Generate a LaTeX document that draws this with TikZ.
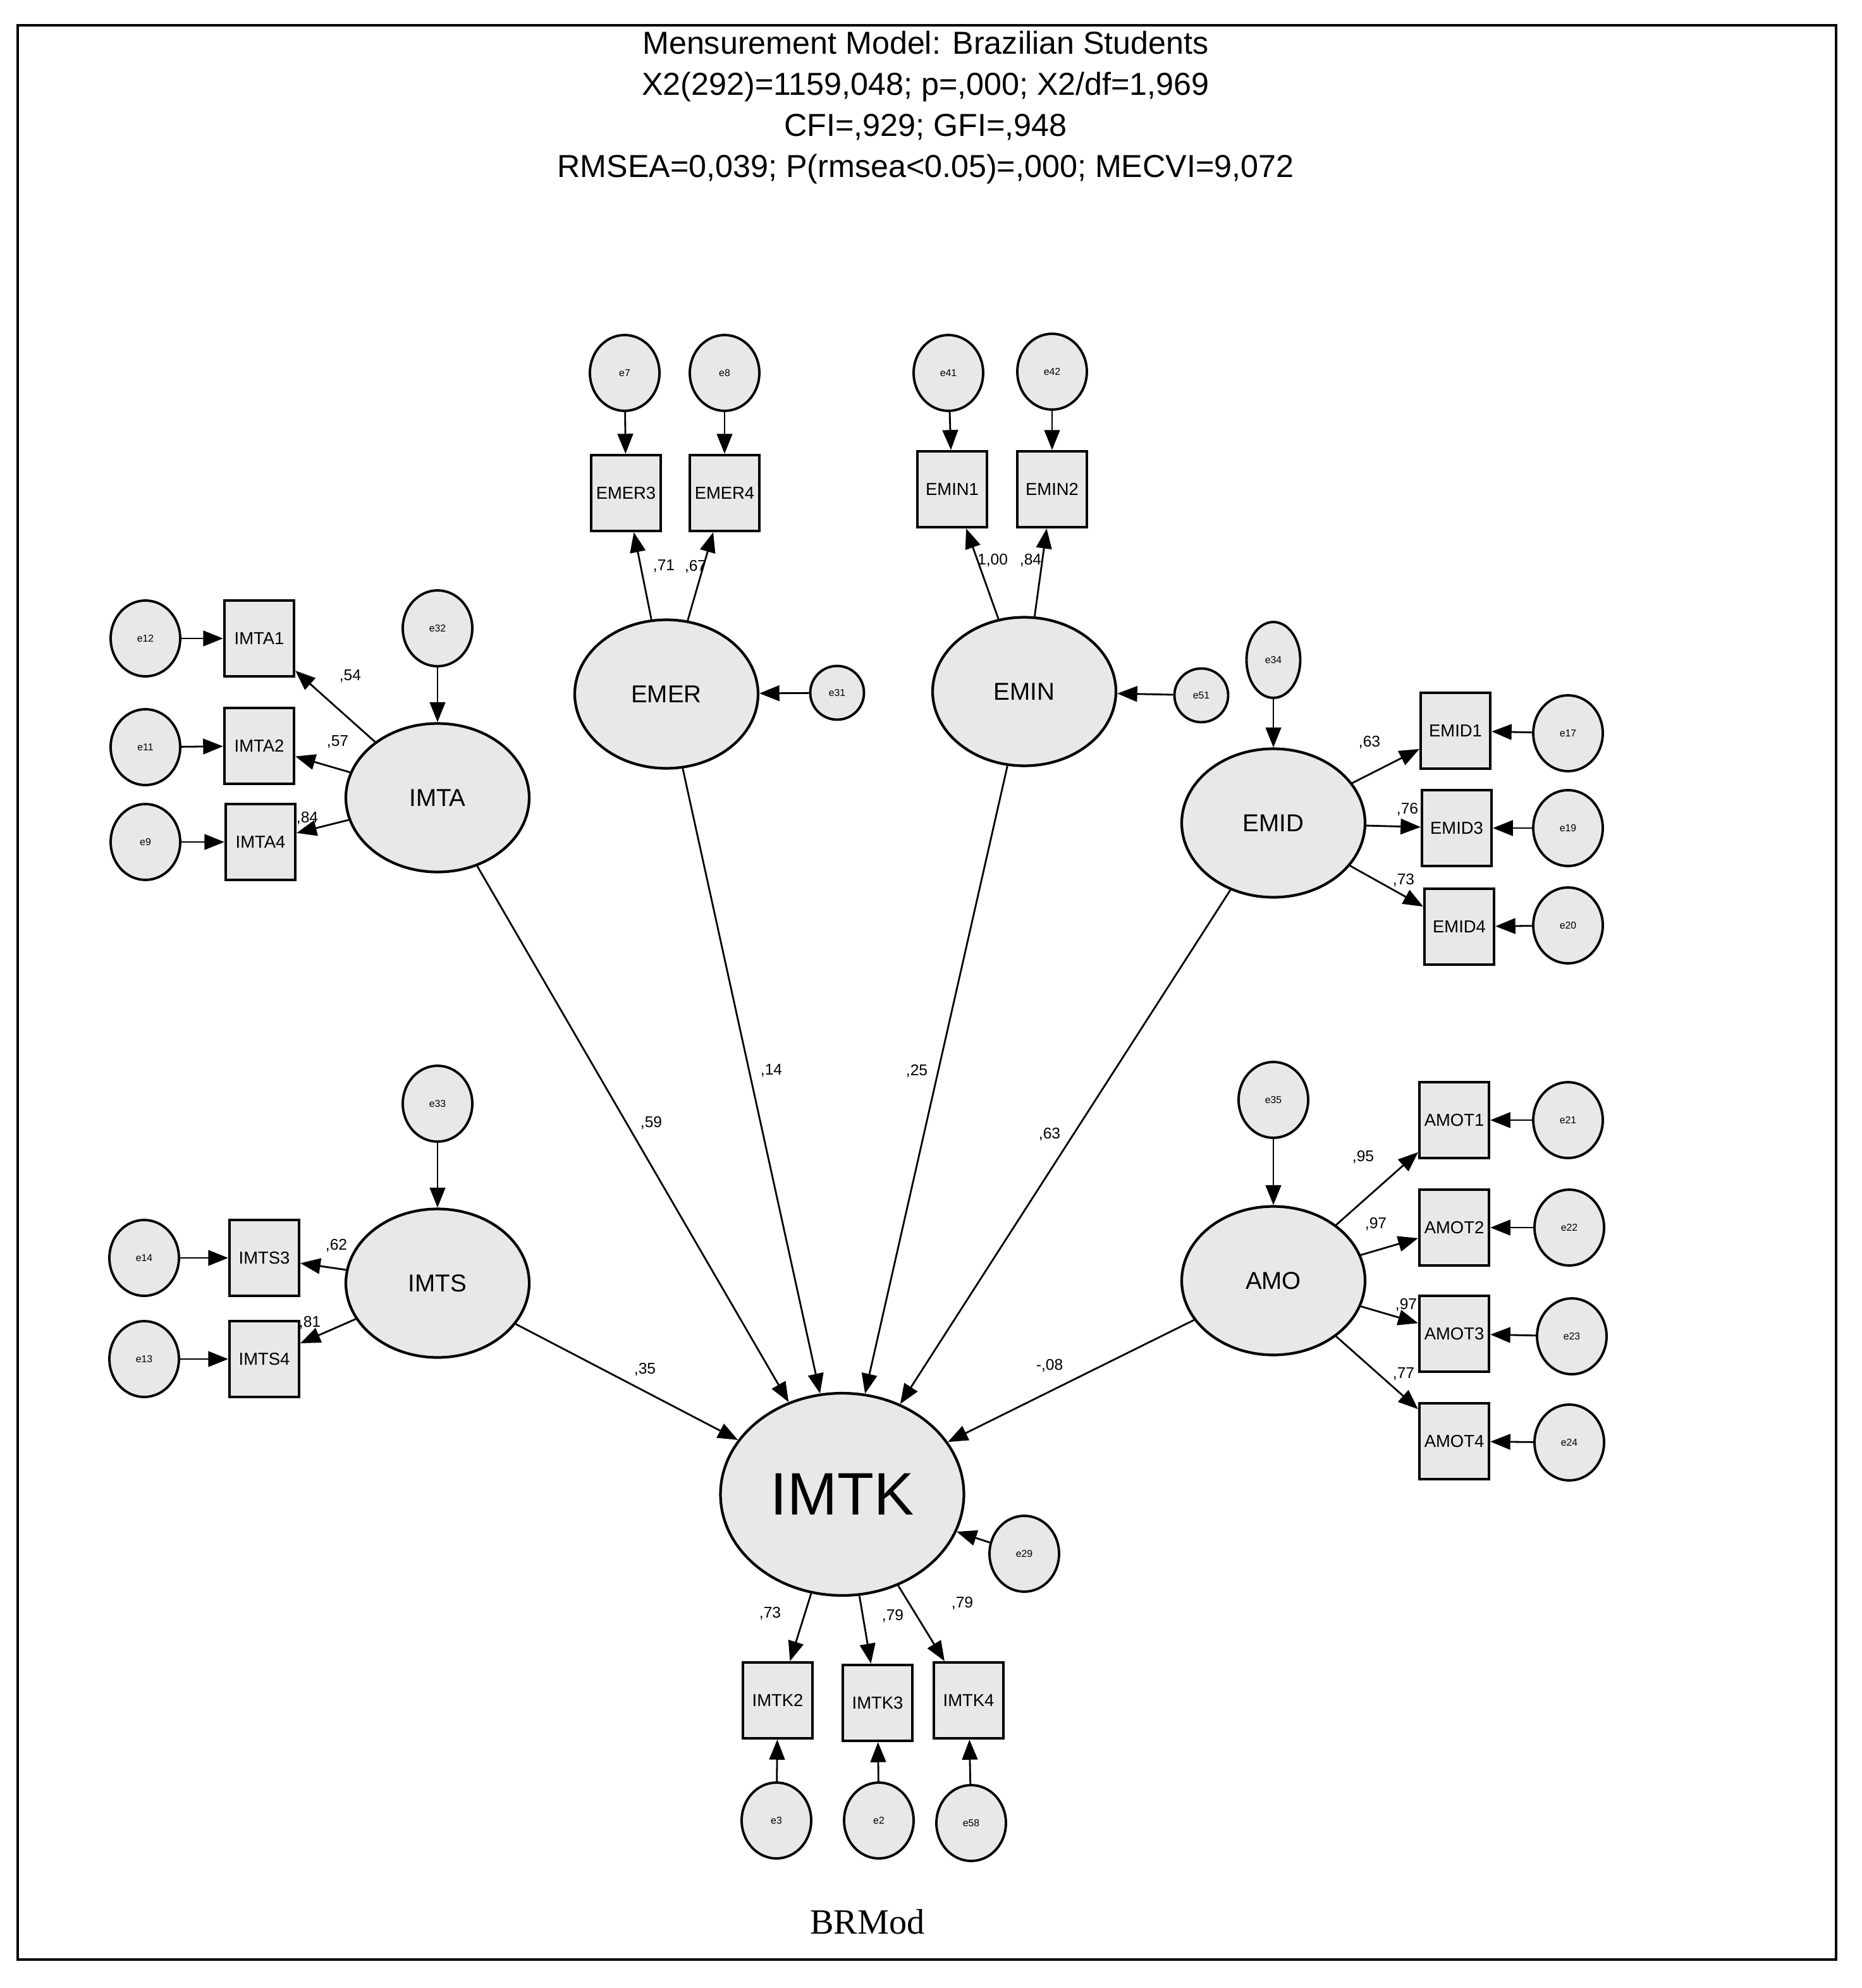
\documentclass[tikz,border=0pt]{standalone}
\usepackage{fontspec}
\setmainfont{Liberation Sans}
\newfontfamily\serifbr{Liberation Serif}
\usetikzlibrary{arrows.meta,shapes.geometric}
\definecolor{fillg}{HTML}{E8E8E8}
\begin{document}
\begin{tikzpicture}[x=0.02cm,y=-0.02cm,
 lat/.style={ellipse,draw,line width=1.2pt,fill=fillg,inner sep=0pt,font=\fontsize{11}{11}\selectfont},
 obs/.style={rectangle,draw,line width=1.2pt,fill=fillg,minimum width=1.1cm,minimum height=1.2cm,inner sep=0pt,font=\fontsize{7.8}{8}\selectfont},
 err/.style={ellipse,draw,line width=1.1pt,fill=fillg,minimum width=1.1cm,minimum height=1.2cm,inner sep=0pt,font=\fontsize{4.5}{5}\selectfont},
 serr/.style={err,minimum width=0.85cm,minimum height=0.85cm},
 ar/.style={-{Triangle[length=9pt,width=7pt]},line width=0.8pt},
 lb/.style={font=\fontsize{7}{8}\selectfont,inner sep=0pt},
 L/.style={lat,minimum width=2.9cm,minimum height=2.35cm},
]
\useasboundingbox (0,0) rectangle (1472,1572.5);
\draw[line width=1.2pt] (14,20) rectangle (1452,1550);
\node[align=center,font=\fontsize{14.3}{18.5}\selectfont] (title) at (732,85) {Mensurement Model: Brazilian Students\\X2(292)=1159,048; p=,000; X2/df=1,969\\CFI=,929; GFI=,948\\RMSEA=0,039; P(rmsea<0.05)=,000; MECVI=9,072};
\node[font=\serifbr\fontsize{16}{16}\selectfont] (cap) at (686,1520) {BRMod};

\node[L] (EMER) at (527,549) {EMER};
\node[L] (EMIN) at (810,547) {EMIN};
\node[L] (IMTA) at (346,631) {IMTA};
\node[L] (EMID) at (1007,651) {EMID};
\node[L] (IMTS) at (346,1015) {IMTS};
\node[L] (AMO) at (1007,1013) {AMO};
\node[lat,minimum width=3.85cm,minimum height=3.2cm,font=\fontsize{27}{27}\selectfont] (IMTK) at (666,1182) {IMTK};

\foreach \n/\x/\y in {EMER3/495/390,EMER4/573/390,EMIN1/753/387,EMIN2/832/387,IMTA1/205/505,IMTA2/205/590,IMTA4/206/666,EMID1/1151/578,EMID3/1152/655,EMID4/1154/733,IMTS3/209/995,IMTS4/209/1075,AMOT1/1150/886,AMOT2/1150/971,AMOT3/1150/1055,AMOT4/1150/1140,IMTK2/615/1345,IMTK3/694/1347,IMTK4/766/1345}
  \node[obs] (\n) at (\x,\y) {\n};

\foreach \n/\x/\y in {e7/494/295,e8/573/295,e41/750/295,e42/832/294,e12/115/505,e11/115/591,e9/115/666,e32/346/497,e17/1240/580,e19/1240/655,e20/1240/732,e35/1007/870,e21/1240/886,e22/1241/971,e23/1243/1057,e24/1241/1141,e14/114/995,e13/114/1075,e33/346/873,e29/810/1229,e3/614/1440,e2/695/1440,e58/768/1442}
  \node[err] (\n) at (\x,\y) {\n};
\node[serr] (e31) at (662,548) {e31};
\node[serr] (e51) at (950,550) {e51};
\node[err,minimum width=0.85cm] (e34) at (1007,522) {e34};

\foreach \a/\b in {e7/EMER3,e8/EMER4,e41/EMIN1,e42/EMIN2,e12/IMTA1,e11/IMTA2,e9/IMTA4,e32/IMTA,e31/EMER,e51/EMIN,e34/EMID,e17/EMID1,e19/EMID3,e20/EMID4,e35/AMO,e21/AMOT1,e22/AMOT2,e23/AMOT3,e24/AMOT4,e14/IMTS3,e13/IMTS4,e33/IMTS,e29/IMTK,e3/IMTK2,e2/IMTK3,e58/IMTK4}
  \draw[ar] (\a) -- (\b);
\foreach \a/\b in {EMER/EMER3,EMER/EMER4,EMIN/EMIN1,EMIN/EMIN2,IMTA/IMTA1,IMTA/IMTA2,IMTA/IMTA4,EMID/EMID1,EMID/EMID3,EMID/EMID4,IMTS/IMTS3,IMTS/IMTS4,AMO/AMOT1,AMO/AMOT2,AMO/AMOT3,AMO/AMOT4,IMTK/IMTK2,IMTK/IMTK3,IMTK/IMTK4}
  \draw[ar] (\a) -- (\b);
\foreach \a in {IMTA,EMER,EMIN,EMID,IMTS,AMO}
  \draw[ar] (\a) -- (IMTK);

\foreach \t/\x/\y in {{,54}/277/535,{,57}/267/587,{,84}/243/647,{,71}/525/448,{,67}/550/448,{1,00}/785/443,{,84}/815/443,{,63}/1083/587,{,76}/1113/640,{,73}/1110/696,{,59}/515/888,{,14}/610/847,{,25}/725/847,{,63}/830/897,{,35}/510/1083,{-,08}/830/1080,{,62}/266/985,{,81}/245/1046,{,95}/1078/915,{,97}/1088/968,{,97}/1112/1032,{,77}/1110/1087,{,73}/609/1276,{,79}/706/1278,{,79}/761/1268}
  \node[lb] at (\x,\y) {\t};
\end{tikzpicture}
\end{document}
